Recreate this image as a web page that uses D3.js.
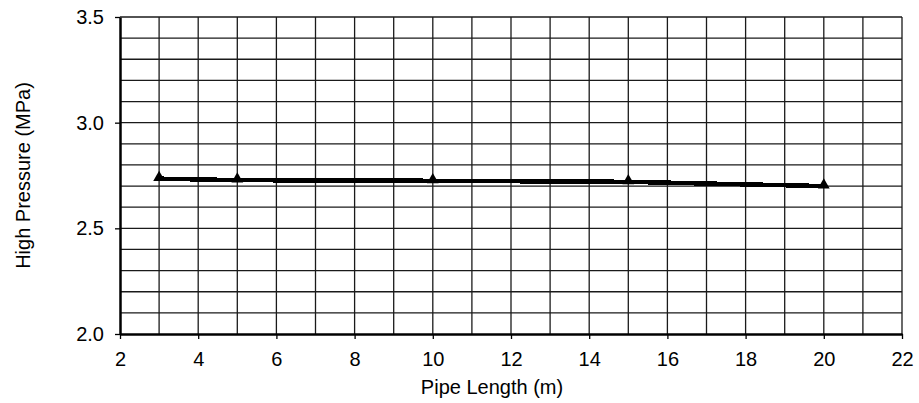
<!DOCTYPE html>
<html>
<head>
<meta charset="utf-8">
<script src="https://cdn.jsdelivr.net/npm/d3@7"></script>
<style>
body { margin: 0; background: #fff; }
text { font-family: "Liberation Sans", Arial, sans-serif; fill: #000; }
</style>
</head>
<body>
<script>
// data
var pipeLength = [3, 5, 10, 15, 20];
var highPressure = [2.735, 2.728, 2.725, 2.72, 2.70];
var xTicks = [2, 4, 6, 8, 10, 12, 14, 16, 18, 20, 22];
var yTicks = [2.0, 2.5, 3.0, 3.5];

var width = 919, height = 403;
var margin = {top: 17, right: 17, bottom: 69, left: 120};

var svg = d3.select("body").append("svg")
    .attr("width", width)
    .attr("height", height);

var x = d3.scaleLinear().domain([2, 22]).range([margin.left, width - margin.right]);
var y = d3.scaleLinear().domain([2.0, 3.5]).range([height - margin.bottom, margin.top]);

// grid, every 1 in x and 0.1 in y
var grid = svg.append("g").attr("stroke", "#1a1a1a").attr("stroke-width", 1.3);
grid.selectAll(".gx").data(d3.range(3, 22.5, 1)).enter().append("line")
    .attr("x1", function (d) { return x(d); })
    .attr("x2", function (d) { return x(d); })
    .attr("y1", y(2.0))
    .attr("y2", y(3.5));
grid.selectAll(".gy").data(d3.range(1, 16).map(function (i) { return 2 + i / 10; })).enter().append("line")
    .attr("x1", x(2))
    .attr("x2", x(22))
    .attr("y1", function (d) { return y(d); })
    .attr("y2", function (d) { return y(d); });

// axes
var xAxis = d3.axisBottom(x).tickValues(xTicks).tickSize(5).tickSizeOuter(0).tickPadding(13)
    .tickFormat(d3.format("d"));
var yAxis = d3.axisLeft(y).tickValues(yTicks).tickSize(5).tickSizeOuter(0).tickPadding(11)
    .tickFormat(d3.format(".1f"));

var gx = svg.append("g").attr("transform", "translate(0," + y(2.0) + ")").call(xAxis);
var gy = svg.append("g").attr("transform", "translate(" + x(2) + ",0)").call(yAxis);

[gx, gy].forEach(function (g) {
    g.attr("font-size", 20);
    g.select(".domain").attr("stroke", "#000").attr("stroke-width", 2.5);
    g.selectAll(".tick line").attr("stroke", "#000").attr("stroke-width", 1.3);
    g.selectAll(".tick text").attr("fill", "#000");
});

// data line
var line = d3.line()
    .x(function (d, i) { return x(pipeLength[i]); })
    .y(function (d) { return y(d); });

svg.append("path")
    .datum(highPressure)
    .attr("d", line)
    .attr("fill", "none")
    .attr("stroke", "#000")
    .attr("stroke-width", 4.5)
    .attr("shape-rendering", "crispEdges");

var tri = d3.symbol().type(d3.symbolTriangle).size(60);
svg.selectAll(".pt").data(highPressure).enter().append("path")
    .attr("d", tri)
    .attr("transform", function (d, i) { return "translate(" + x(pipeLength[i]) + "," + (y(d) - 1) + ")"; })
    .attr("fill", "#000");

// axis titles
svg.append("text")
    .attr("x", 492)
    .attr("y", 394)
    .attr("text-anchor", "middle")
    .style("font-size", "20px")
    .text("Pipe Length (m)");

svg.append("text")
    .attr("transform", "translate(30," + (y(2.0) + y(3.5)) / 2 + ") rotate(-90)")
    .attr("text-anchor", "middle")
    .style("font-size", "20px")
    .text("High Pressure (MPa)");
</script>
</body>
</html>
